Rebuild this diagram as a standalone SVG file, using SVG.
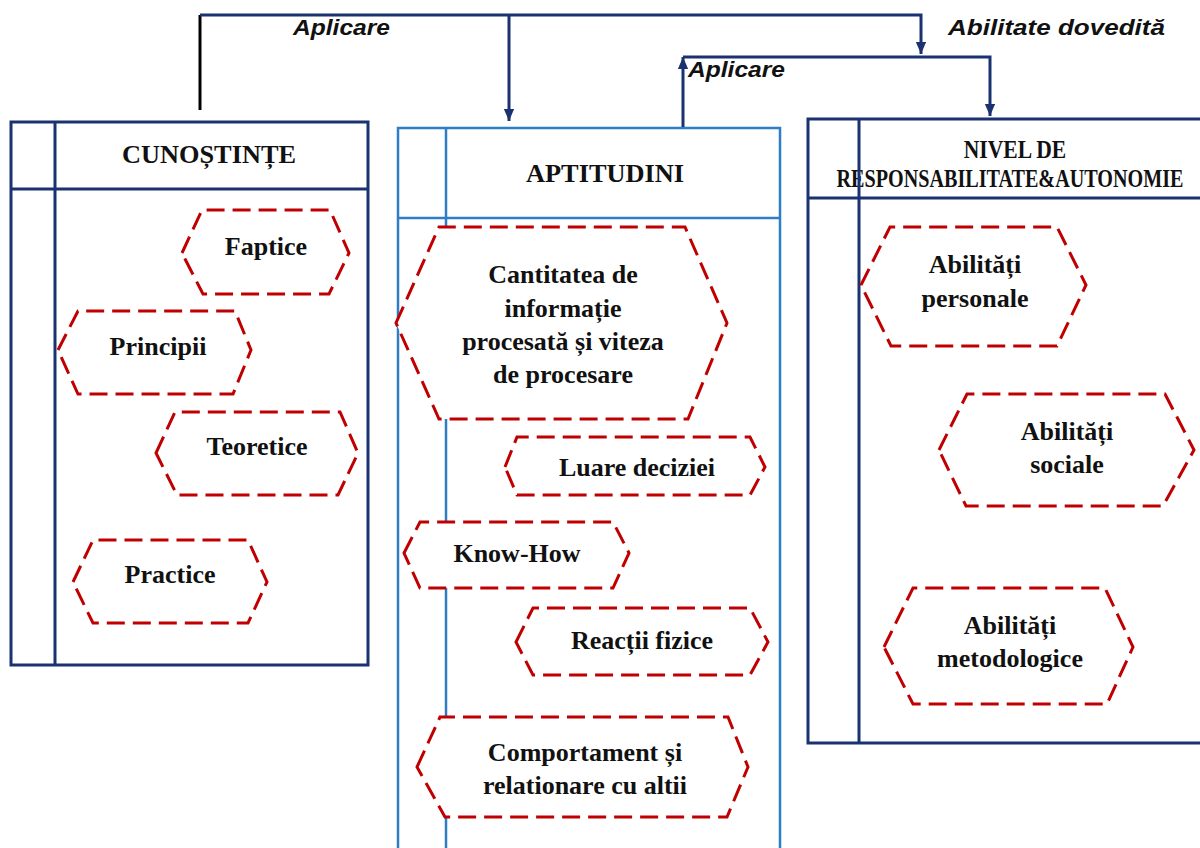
<svg xmlns="http://www.w3.org/2000/svg" width="1200" height="848" viewBox="0 0 1200 848">
<defs>
<style>
.navy{fill:#fff;stroke:#1B3270;stroke-width:3}
.blue{fill:#fff;stroke:#2E7DC5;stroke-width:2.5}
.ln-navy{fill:none;stroke:#1B3270;stroke-width:3}
.ln-blue{fill:none;stroke:#2E7DC5;stroke-width:2.5}
.hex{fill:#fff;stroke:#C00000;stroke-width:3;stroke-dasharray:18 8}
.t{font-family:"Liberation Serif","Times New Roman",serif;font-weight:bold;font-size:26px;fill:#111;text-anchor:middle}
.lbl{font-family:"Liberation Sans",Arial,sans-serif;font-weight:bold;font-style:italic;font-size:22px;fill:#111}
.con{fill:none;stroke:#1B3270;stroke-width:3}
</style>
<marker id="ah" viewBox="0 0 12 14" refX="14" refY="6" markerWidth="14" markerHeight="12" markerUnits="userSpaceOnUse" orient="auto">
<path d="M0,0 L14,6 L0,12 z" fill="#1B3270"/>
</marker>
</defs>
<rect width="1200" height="848" fill="#fff"/>

<g id="cunostinte">
<rect class="navy" x="11" y="122" width="357" height="543"/>
<line class="ln-navy" x1="11" y1="189" x2="368" y2="189"/>
<line class="ln-navy" x1="55" y1="122" x2="55" y2="665"/>
<text class="t" x="209" y="163" textLength="174" lengthAdjust="spacingAndGlyphs">CUNOȘTINȚE</text>
</g>

<g id="aptitudini">
<rect class="blue" x="398" y="128" width="382" height="740"/>
<line class="ln-blue" x1="398" y1="218" x2="780" y2="218"/>
<line class="ln-blue" x1="446" y1="128" x2="446" y2="860"/>
<text class="t" x="605" y="182" textLength="158" lengthAdjust="spacingAndGlyphs">APTITUDINI</text>
</g>

<g id="nivel">
<rect class="navy" x="808" y="119" width="400" height="624"/>
<line class="ln-navy" x1="808" y1="198" x2="1208" y2="198"/>
<text class="t" transform="translate(1015,158) scale(0.83,1)" x="0" y="0">NIVEL DE</text>
<text class="t" transform="translate(1010,187) scale(0.775,1)" x="0" y="0">RESPONSABILITATE&amp;AUTONOMIE</text>
<line class="ln-navy" x1="859" y1="119" x2="859" y2="743"/>
</g>

<g id="faptice">
<polygon class="hex" points="182,253 202,210 330,210 349,253 329,294 203,294"/>
<text class="t" x="266" y="255">Faptice</text>
</g>
<g id="principii">
<polygon class="hex" points="58,350 78,311 235,311 251,350 233,394 78,394"/>
<text class="t" x="158" y="355">Principii</text>
</g>
<g id="teoretice">
<polygon class="hex" points="156,453 175,412 340,412 358,453 338,495 177,495"/>
<text class="t" x="257" y="455">Teoretice</text>
</g>
<g id="practice">
<polygon class="hex" points="73,582 93,540 248,540 267,582 248,623 93,623"/>
<text class="t" x="170" y="583">Practice</text>
</g>

<g id="cantitatea">
<polygon class="hex" points="396,323 439,227 685,227 727,323 688,419 439,419"/>
<text class="t" x="563" y="283">Cantitatea de</text>
<text class="t" x="563" y="317">informație</text>
<text class="t" x="563" y="350">procesată și viteza</text>
<text class="t" x="563" y="383">de procesare</text>
</g>
<g id="luare">
<polygon class="hex" points="505,467 517,437 750,437 765,467 750,495 517,495"/>
<text class="t" x="637" y="476">Luare deciziei</text>
</g>
<g id="knowhow">
<polygon class="hex" points="404,553 420,522 613,522 629,553 613,588 420,588"/>
<text class="t" x="517" y="562">Know-How</text>
</g>
<g id="reactii">
<polygon class="hex" points="516,642 533,608 750,608 768,642 750,675 533,675"/>
<text class="t" x="642" y="649">Reacții fizice</text>
</g>
<g id="comportament">
<polygon class="hex" points="417,767 440,717 728,717 748,767 727,817 445,817"/>
<text class="t" x="585" y="761">Comportament și</text>
<text class="t" x="585" y="794">relationare cu altii</text>
</g>

<g id="personale">
<polygon class="hex" points="861,285 890,227 1057,227 1086,285 1057,346 891,346"/>
<text class="t" x="975" y="273">Abilități</text>
<text class="t" x="975" y="307">personale</text>
</g>
<g id="sociale">
<polygon class="hex" points="939,450 967,394 1165,394 1194,450 1163,506 966,506"/>
<text class="t" x="1067" y="440">Abilități</text>
<text class="t" x="1067" y="473">sociale</text>
</g>
<g id="metodologice">
<polygon class="hex" points="884,647 913,588 1105,588 1133,647 1107,704 913,704"/>
<text class="t" x="1010" y="634">Abilități</text>
<text class="t" x="1010" y="667">metodologice</text>
</g>

<g id="connectors">
<line x1="200" y1="110" x2="200" y2="15" stroke="#000" stroke-width="3"/>
<path class="con" d="M200,15 H921 V54" marker-end="url(#ah)"/>
<path class="con" d="M509,15 V121" marker-end="url(#ah)"/>
<path class="con" d="M683,127 V57" marker-end="url(#ah)"/>
<path class="con" d="M683,57 H990 V116" marker-end="url(#ah)"/>
<text class="lbl" x="293" y="35" textLength="97" lengthAdjust="spacingAndGlyphs">Aplicare</text>
<text class="lbl" x="948" y="35" textLength="217" lengthAdjust="spacingAndGlyphs">Abilitate dovedită</text>
<text class="lbl" x="688" y="77" textLength="97" lengthAdjust="spacingAndGlyphs">Aplicare</text>
</g>
</svg>
